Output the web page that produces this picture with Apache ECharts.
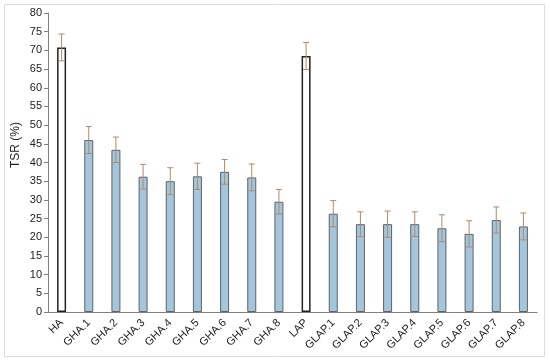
<!DOCTYPE html>
<html>
<head>
<meta charset="utf-8">
<script src="https://cdn.jsdelivr.net/npm/echarts@6/dist/echarts.min.js"></script>
<style>
  html, body { margin: 0; padding: 0; background: #fff; }
  #chart { width: 550px; height: 362px; }
</style>
</head>
<body>
<div id="chart"></div>
<script>
// 数据
const categories = ['HA', 'GHA.1', 'GHA.2', 'GHA.3', 'GHA.4', 'GHA.5', 'GHA.6', 'GHA.7', 'GHA.8',
  'LAP', 'GLAP.1', 'GLAP.2', 'GLAP.3', 'GLAP.4', 'GLAP.5', 'GLAP.6', 'GLAP.7', 'GLAP.8'];
const tsrValues = [70.8, 46.0, 43.4, 36.2, 35.0, 36.3, 37.5, 36.0, 29.5,
  68.5, 26.3, 23.5, 23.5, 23.5, 22.4, 20.9, 24.6, 22.9];
const tsrErrors = [3.6, 3.6, 3.4, 3.3, 3.6, 3.5, 3.3, 3.6, 3.3,
  3.6, 3.5, 3.3, 3.5, 3.3, 3.6, 3.5, 3.5, 3.6];
const controls = ['HA', 'LAP'];
const yTitle = 'TSR (%)';

const chart = echarts.init(document.getElementById('chart'));

const barData = tsrValues.map((v, i) => {
  const isControl = controls.includes(categories[i]);
  return {
    value: v,
    itemStyle: {
      color: isControl ? '#ffffff' : '#a5c5da',
      borderColor: isControl ? '#222222' : '#5a6470',
      borderWidth: isControl ? 1.5 : 1
    }
  };
});

const errData = tsrValues.map((v, i) => [i, v - tsrErrors[i], v + tsrErrors[i]]);

const option = {
  animation: false,
  textStyle: { fontFamily: 'Liberation Sans, Arial, sans-serif' },
  graphic: [
    {
      type: 'rect',
      shape: { x: 4.5, y: 4.5, width: 540, height: 352 },
      style: { fill: 'none', stroke: '#dcdcdc', lineWidth: 1 },
      silent: true
    },
    {
      // y轴标题
      type: 'text',
      x: 16,
      y: 145,
      rotation: Math.PI / 2,
      style: {
        text: yTitle,
        fill: '#222',
        fontSize: 12,
        fontFamily: 'Liberation Sans, Arial, sans-serif',
        align: 'center',
        verticalAlign: 'middle'
      }
    }
  ],
  grid: { left: 48, right: 13, top: 13, bottom: 50 },
  xAxis: {
    type: 'category',
    data: categories,
    axisLine: { lineStyle: { color: '#808080' } },
    axisTick: { show: false },
    axisLabel: { rotate: 45, color: '#222', fontSize: 11, margin: 9, interval: 0 }
  },
  yAxis: {
    type: 'value',
    min: 0,
    max: 80,
    interval: 5,
    axisLine: { show: true, lineStyle: { color: '#808080' } },
    axisTick: { show: true, length: 4, lineStyle: { color: '#808080' } },
    axisLabel: { color: '#222', fontSize: 11, margin: 6 },
    splitLine: { show: false }
  },
  series: [
    {
      type: 'bar',
      data: barData,
      barWidth: 9
    },
    {
      type: 'custom',
      data: errData,
      z: 5,
      renderItem: function (params, api) {
        const x = api.value(0);
        const lo = api.coord([x, api.value(1)]);
        const hi = api.coord([x, api.value(2)]);
        const half = 3;
        const style = { stroke: '#b08a6c', lineWidth: 1 };
        return {
          type: 'group',
          children: [
            { type: 'line', shape: { x1: hi[0], y1: hi[1], x2: lo[0], y2: lo[1] }, style: style },
            { type: 'line', shape: { x1: hi[0] - half, y1: hi[1], x2: hi[0] + half, y2: hi[1] }, style: style },
            { type: 'line', shape: { x1: lo[0] - half, y1: lo[1], x2: lo[0] + half, y2: lo[1] }, style: style }
          ]
        };
      }
    }
  ]
};

chart.setOption(option);
</script>
</body>
</html>
